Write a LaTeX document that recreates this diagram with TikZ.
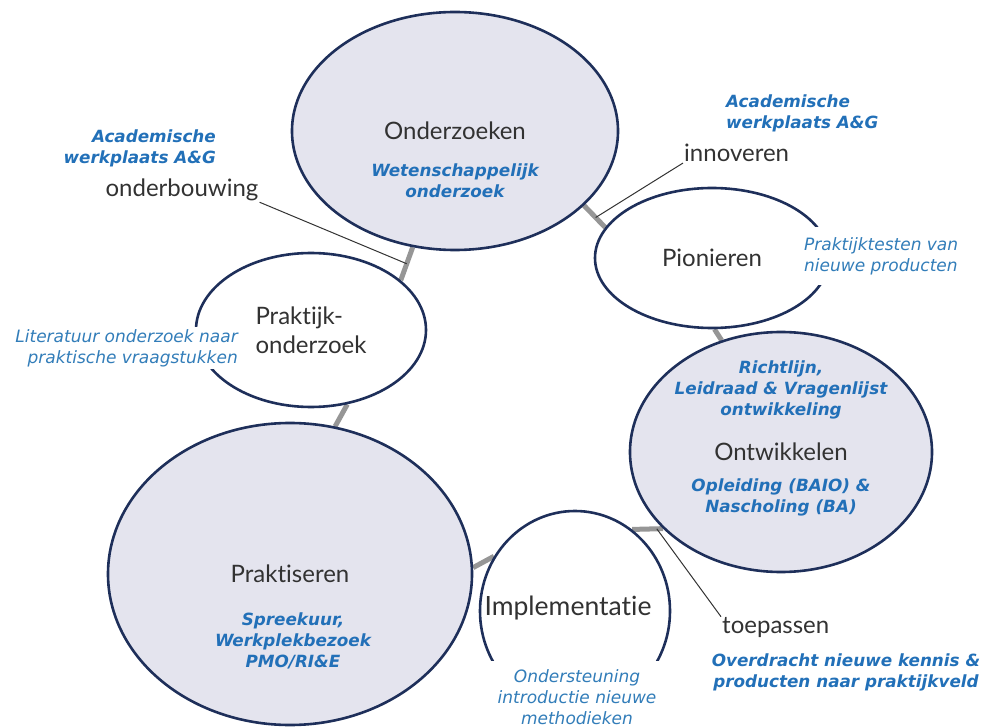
\documentclass[tikz,border=0pt]{standalone}
\usepackage{fontspec}
\setmainfont{Lato}[Ligatures={NoCommon,NoRequired}]
\newfontfamily\verdana{DejaVu Sans}
\usepackage{tikz}
\usetikzlibrary{shapes.geometric,backgrounds}
\definecolor{ringblue}{RGB}{30,47,90}
\definecolor{ringfill}{RGB}{228,228,238}
\definecolor{linkgray}{RGB}{150,150,150}
\definecolor{labelgray}{RGB}{50,50,50}
\definecolor{noteblue}{RGB}{34,112,184}
\definecolor{remarkblue}{RGB}{50,125,185}
\tikzset{
  phase/.style={ellipse,draw=ringblue,line width=2.6pt,inner sep=0pt,text=labelgray,
    font=\fontsize{24}{29}\selectfont},
  grayring/.style={phase,fill=ringfill},
  plainring/.style={phase,fill=white},
  link/.style={linkgray,line width=5pt},
  leader/.style={black!80,line width=1pt},
  note/.style={text=noteblue,align=center,inner sep=1pt,
    font=\verdana\bfseries\itshape\fontsize{16.8}{21}\selectfont},
  remark/.style={text=remarkblue,fill=white,inner sep=2pt,
    font=\verdana\itshape\fontsize{17}{21}\selectfont},
  verb/.style={text=labelgray,inner sep=1pt,font=\fontsize{24}{26}\selectfont},
}

\begin{document}
\begin{tikzpicture}[x=1pt,y=-1pt]
\useasboundingbox (0,0) rectangle (988,727);
\node[grayring,minimum width=326pt,minimum height=238pt] (onderzoeken) at (455,131) {Onderzoeken};
\node[plainring,minimum width=230pt,minimum height=154pt,align=left] (praktijk) at (311,330) {Praktijk-\\onderzoek};
\node[plainring,minimum width=234pt,minimum height=140pt] (pionieren) at (712,258) {Pionieren};
\node[grayring,minimum width=302pt,minimum height=240pt] (ontwikkelen) at (781,452) {Ontwikkelen};
\node[grayring,minimum width=364pt,minimum height=302pt] (praktiseren) at (290,574) {Praktiseren};
\node[plainring,minimum width=190pt,minimum height=200pt] (implementatie) at (575,611) {};
\node[verb,font=\fontsize{26.5}{30}\selectfont] (tImplementatie) at (568,608) {Implementatie};

\begin{scope}[on background layer]
\draw[link] (onderzoeken.250) -- node[coordinate,pos=0.5] (mOP) {} (praktijk.29);
\draw[link] (onderzoeken.330) -- node[coordinate,pos=0.55] (mOW) {} (pionieren.164);
\draw[link] (pionieren.272) -- (ontwikkelen.118);
\draw[link] (praktijk.296) -- (praktiseren.73);
\draw[link] (praktiseren.2) -- (implementatie.146);
\draw[link] (implementatie.55) -- node[coordinate,pos=0.8] (mIO) {} (ontwikkelen.213);
\end{scope}

\node[note] (tWetenschap) at (455,181) {Wetenschappelijk\\onderzoek};
\node[note,align=right,anchor=east] (tAcadLeft) at (217,148) {Academische\\werkplaats A\&G};
\node[verb] (tOnderbouwing) at (182,190) {onderbouwing};
\node[remark,align=right,anchor=east] (tLiteratuur) at (240,348) {Literatuur onderzoek naar\\praktische vraagstukken};
\node[note,align=left,anchor=west] (tAcadRight) at (725,113) {Academische\\werkplaats A\&G};
\node[verb,anchor=west] (tInnoveren) at (683,153) {innoveren};
\node[remark,align=left,anchor=west,inner xsep=1pt,inner ysep=10pt] (tPraktijktesten) at (803,256) {Praktijktesten van\\nieuwe producten};
\node[note] (tRichtlijn) at (781,390) {Richtlijn,\\Leidraad \& Vragenlijst\\ontwikkeling};
\node[note] (tOpleiding) at (781,497) {Opleiding (BAIO) \&\\Nascholing (BA)};
\node[note] (tSpreekuur) at (293,641) {Spreekuur,\\Werkplekbezoek\\PMO/RI\&E};
\node[verb,anchor=west] (tToepassen) at (721,628) {toepassen};
\node[note] (tOverdracht) at (846,672) {Overdracht nieuwe kennis \&\\producten naar praktijkveld};
\node[remark,align=center,inner xsep=12pt,inner ysep=8pt] (tOndersteuning) at (577,697) {Ondersteuning\\introductie nieuwe\\methodieken};

\draw[leader] (tOnderbouwing.south east) -- (mOP);
\draw[leader] (tInnoveren.south west) -- (mOW);
\draw[leader] (tToepassen.north west) -- (mIO);
\end{tikzpicture}
\end{document}
